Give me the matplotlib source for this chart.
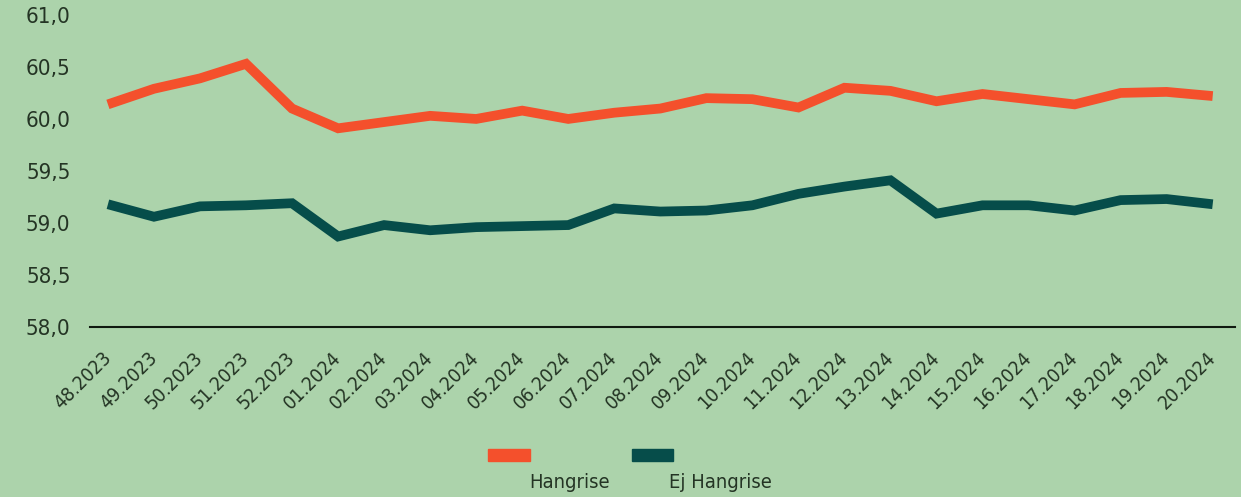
import matplotlib.pyplot as plt
from matplotlib.patches import Rectangle
from matplotlib.ticker import FuncFormatter

# ---- data ----
weeks = ["48.2023", "49.2023", "50.2023", "51.2023", "52.2023",
         "01.2024", "02.2024", "03.2024", "04.2024", "05.2024",
         "06.2024", "07.2024", "08.2024", "09.2024", "10.2024",
         "11.2024", "12.2024", "13.2024", "14.2024", "15.2024",
         "16.2024", "17.2024", "18.2024", "19.2024", "20.2024"]

hangrise = [60.14, 60.29, 60.39, 60.53, 60.10,
            59.91, 59.97, 60.03, 60.00, 60.08,
            60.00, 60.06, 60.10, 60.20, 60.19,
            60.11, 60.30, 60.27, 60.17, 60.24,
            60.19, 60.14, 60.25, 60.26, 60.22]

ej_hangrise = [59.18, 59.06, 59.16, 59.17, 59.19,
               58.87, 58.98, 58.93, 58.96, 58.97,
               58.98, 59.14, 59.11, 59.12, 59.17,
               59.28, 59.35, 59.41, 59.09, 59.17,
               59.17, 59.12, 59.22, 59.23, 59.18]

series_names = ["Hangrise", "Ej Hangrise"]

# ---- style ----
BG = "#acd3ab"
ORANGE = "#f4502c"
TEAL = "#064d4a"
TXT = "#243424"

plt.rcParams['font.family'] = ['DejaVu Sans']
plt.rcParams['font.stretch'] = 'condensed'

fig = plt.figure(figsize=(12.41, 4.97), dpi=100, facecolor=BG)
ax = fig.add_axes([0.0725, 0.342, 0.9225, 0.628])
ax.set_facecolor(BG)

x = list(range(len(weeks)))
ax.plot(x, hangrise, color=ORANGE, lw=7, solid_joinstyle='miter', solid_capstyle='butt')
ax.plot(x, ej_hangrise, color=TEAL, lw=7, solid_joinstyle='miter', solid_capstyle='butt')

ax.set_ylim(58.0, 61.0)
ax.set_xlim(-0.39, 24.48)
ax.set_yticks([58.0, 58.5, 59.0, 59.5, 60.0, 60.5, 61.0])
ax.yaxis.set_major_formatter(FuncFormatter(lambda v, p: f"{v:.1f}".replace(".", ",")))
ax.set_xticks(x)
ax.set_xticklabels(weeks, rotation=45, ha='right', va='center', rotation_mode='anchor')

ax.tick_params(axis='both', length=0, colors=TXT)
ax.tick_params(axis='y', pad=14, labelsize=16)
ax.tick_params(axis='x', pad=20, labelsize=14)

for s in ['top', 'right', 'left']:
    ax.spines[s].set_visible(False)
ax.spines['bottom'].set_color('#101a10')
ax.spines['bottom'].set_linewidth(1.5)

# ---- legend (patches above labels) ----
fig.patches.append(Rectangle((488 / 1241, 1 - 461 / 497), 42 / 1241, 12 / 497,
                             transform=fig.transFigure, color=ORANGE))
fig.patches.append(Rectangle((632 / 1241, 1 - 461 / 497), 41 / 1241, 12 / 497,
                             transform=fig.transFigure, color=TEAL))
fig.text(570 / 1241, 1 - 483 / 497, series_names[0], ha='center', va='center',
         fontsize=14.5, color=TXT)
fig.text(720 / 1241, 1 - 483 / 497, series_names[1], ha='center', va='center',
         fontsize=14.5, color=TXT)

fig.savefig("out.png", dpi=100, facecolor=BG)
